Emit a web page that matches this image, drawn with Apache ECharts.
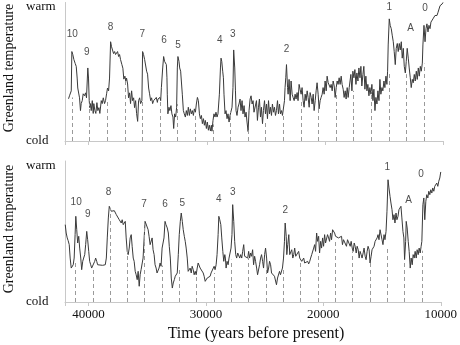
<!DOCTYPE html>
<html><head><meta charset="utf-8">
<script src="https://cdn.jsdelivr.net/npm/echarts@6/dist/echarts.min.js"></script>
<style>html,body{margin:0;padding:0;background:#fff}#c{width:460px;height:345px}</style>
</head><body><div id="c"></div>
<script>
// ---- Data (years before present, temperature index 0=cold .. 100=warm) ----
const topYears=[41700,41620,41530,41470,41420,41340,41250,41140,41050,40970,40920,40770,40690,40630,40540,40460,40350,40260,40180,40070,40010,39950,39900,39840,39780,39690,39610,39560,39470,39390,39300,39220,39130,39050,38930,38850,38760,38650,38570,38480,38400,38310,38230,38140,38060,37970,37890,37800,37720,37630,37550,37460,37380,37300,37240,37190,37100,37020,36930,36850,36790,36700,36620,36530,36450,36360,36280,36190,36110,36020,35940,35850,35770,35680,35600,35490,35430,35350,35260,35180,35090,35010,34920,34840,34750,34670,34580,34500,
34410,34270,34180,34130,34050,33960,33900,33840,33730,33650,33570,33480,33420,33370,33340,33290,33200,33120,33030,32950,32860,32800,32720,32630,32550,32490,32440,32350,32290,32210,32150,32070,31980,31900,31810,31730,31640,31560,31470,31390,31300,31220,31130,31050,30960,30880,30790,30710,30620,30540,30450,30370,30280,30200,30120,30030,29950,29860,29780,29690,29610,29560,29470,29390,29300,29220,29130,29050,28930,28840,28790,28730,28650,28590,28540,28450,28370,28280,28200,28110,28030,27950,27860,27780,27720,27630,27570,27520,27440,27350,27270,27180,27100,27010,26930,26840,26760,26670,26590,26500,26420,26330,26250,26160,26080,26000,
25940,25790,25710,25620,25540,25450,25370,25280,25200,25110,25030,24940,24860,24770,24690,24610,24520,24440,24350,24270,24180,24100,24010,23930,23840,23760,23670,23590,23500,23420,23370,23310,23250,23160,23110,23030,22940,22860,22770,22690,22600,22520,22440,22350,22270,22180,22100,22010,21930,21840,21760,21670,21590,21500,21420,21330,21250,21160,21080,20990,20910,20820,20740,20660,20570,20490,20400,20320,20230,20150,20060,19980,19890,19810,19720,19640,19550,19470,19380,19300,19210,19130,19040,18960,18880,18790,18710,18620,18540,18450,18370,18280,18200,18110,18030,17940,
17880,17800,17710,17630,17540,17460,17370,17290,17200,17120,17030,16950,16870,16780,16700,16610,16530,16440,16360,16270,16190,16100,16020,15930,15850,15760,15680,15590,15510,15420,15340,15260,15170,15090,15000,14920,14830,14750,14690,14640,14550,14470,14380,14300,14210,14130,14040,13960,13870,13790,13700,13620,13530,13450,13360,13280,13190,13110,13030,12940,12860,12770,12690,12600,12520,12430,12350,12260,12180,12090,12010,11920,11840,11750,11700,11610,11520,11440,11360,11270,11190,11100,11020,10930,10850,10760,10680,10590,10510,10420,10340,10250,10170,10080,10000];
const topTemp=[31.4,33.6,32.4,37.3,66.5,64.3,60.6,57.7,55.5,46.8,39.4,32.1,22.6,27.8,30.0,35.1,33.6,35.8,32.1,54.3,46.8,30.0,24.8,27.8,22.6,30.0,20.5,27.8,22.6,20.5,28.5,22.6,24.8,20.5,30.0,27.8,32.1,27.8,30.0,35.1,39.4,37.3,46.8,73.8,70.1,68.7,65.0,66.5,64.3,65.0,66.5,62.8,64.3,60.6,61.4,57.0,54.1,46.0,48.2,44.6,46.8,42.4,32.1,35.8,27.8,37.3,30.0,32.1,24.8,30.0,20.5,14.6,30.0,32.1,27.8,30.0,66.5,64.3,60.6,61.4,51.9,49.7,39.4,35.1,30.0,32.1,27.8,30.0,
30.0,32.4,28.7,31.2,30.0,32.4,30.0,39.7,54.3,62.8,59.2,57.9,56.8,47.0,34.8,20.2,25.1,22.6,26.3,20.2,17.8,9.3,20.2,17.8,25.1,54.3,62.8,59.2,54.3,51.9,44.6,34.8,22.6,20.2,17.8,22.6,19.0,25.1,19.0,23.9,20.2,22.6,19.0,23.9,21.4,27.5,32.4,30.0,20.2,16.6,19.0,12.9,16.6,11.7,15.3,9.3,14.1,8.0,11.7,7.5,11.7,7.3,15.3,20.2,17.8,21.4,17.8,20.2,34.8,54.3,61.6,59.2,51.9,47.0,34.8,20.2,22.6,16.6,20.2,14.1,19.0,20.2,25.1,39.7,67.7,54.3,37.3,22.6,19.0,25.1,27.5,31.2,22.6,30.0,20.2,26.3,17.8,21.4,14.1,7.0,22.6,31.2,33.6,27.5,30.0,21.4,
22.6,30.0,15.3,25.1,31.2,17.8,25.1,12.9,22.6,30.0,20.2,27.5,16.6,30.0,20.2,25.1,19.0,27.5,21.4,25.1,19.0,22.6,30.0,20.2,27.5,20.2,22.6,19.0,17.8,30.0,39.7,47.0,56.8,39.7,34.8,45.8,30.0,44.6,34.8,32.4,30.0,34.8,31.2,36.0,30.0,42.1,38.5,34.8,39.7,30.0,25.1,34.8,30.0,37.3,32.4,25.1,36.0,32.4,27.5,34.8,22.6,30.0,37.3,43.3,34.8,23.9,30.0,32.4,34.8,39.7,34.8,44.6,37.3,48.2,43.3,44.6,39.7,42.1,37.3,44.6,40.9,32.4,39.7,44.6,42.1,47.0,42.1,48.2,42.1,38.5,32.4,37.3,31.2,39.7,32.4,39.7,
39.7,49.5,37.3,51.9,47.0,53.1,42.1,50.6,44.6,54.3,47.0,55.5,40.9,49.5,55.5,38.5,48.2,37.3,42.1,33.6,39.7,34.8,42.1,30.0,38.5,22.6,32.4,27.5,37.3,30.0,45.8,34.8,39.7,37.3,44.6,39.7,48.2,42.1,51.9,71.4,90.8,86.0,83.5,78.7,73.8,66.5,56.8,68.9,72.5,66.5,72.5,67.7,73.8,61.6,68.9,55.5,50.6,59.2,68.9,61.6,54.3,47.0,39.7,45.8,43.3,49.5,44.6,51.9,45.8,54.3,48.2,55.5,51.9,57.9,71.4,86.0,73.8,83.5,87.1,81.1,86.0,83.5,88.4,87.1,90.8,92.0,93.3,94.5,93.3,95.7,96.9,100.6,99.3,101.8,103.0];

const bottomYears=[41980,41900,41810,41730,41640,41560,41470,41390,41300,41220,41140,41080,41000,40920,40830,40750,40660,40580,40490,40410,40320,40240,40150,40070,39980,39900,39810,39730,39640,39560,39470,39390,39300,39220,39130,39050,38800,38570,38480,38400,38310,38230,38140,38060,37970,37890,37800,37720,37630,37550,37460,37380,37300,37210,37130,37040,36960,36870,36790,36700,36620,36530,36450,36360,36280,36190,36110,36020,35940,35850,35770,35680,35600,35520,35430,35350,35260,35180,35090,35010,34920,34840,34750,34670,34580,34500,
34410,34330,34240,34160,34070,33990,33900,33820,33730,33570,33480,33400,33290,33200,33120,33030,32950,32860,32780,32690,32610,32520,32440,32350,32270,32180,32100,32010,31930,31840,31760,31680,31590,31510,31420,31340,31250,31170,31080,31000,30910,30830,30740,30660,30570,30490,30400,30320,30230,30150,30060,29980,29890,29810,29730,29640,29560,29470,29390,29300,29220,29130,29050,28960,28900,28820,28730,28650,28560,28480,28390,28340,28280,28200,28110,28030,27950,27860,27780,27720,27630,27550,27460,27380,27290,27210,27120,27040,26950,26870,26780,26700,26610,26530,26440,26360,26280,26190,26110,26020,
25940,25850,25770,25680,25600,25510,25430,25340,25260,25170,25090,25000,24920,24830,24750,24660,24580,24490,24410,24330,24240,24160,24070,23990,23900,23820,23730,23650,23560,23480,23390,23310,23250,23160,23110,23030,22940,22860,22770,22690,22600,22520,22440,22350,22270,22180,22100,22010,21930,21840,21760,21670,21590,21500,21420,21330,21250,21160,21080,20990,20910,20820,20740,20660,20570,20490,20400,20320,20230,20150,20060,19980,19890,19810,19720,19640,19550,19470,19380,19300,19210,19130,19040,18960,18880,18790,18710,18620,18540,18450,18370,18280,18200,18110,18030,17940,
17880,17800,17710,17630,17540,17460,17370,17290,17200,17120,17030,16950,16870,16780,16700,16610,16530,16440,16360,16270,16190,16100,16020,15930,15850,15760,15680,15590,15510,15420,15340,15260,15170,15090,15000,14920,14830,14750,14660,14580,14490,14410,14320,14240,14150,14070,13980,13900,13810,13730,13640,13560,13470,13390,13310,13220,13140,13080,12990,12940,12860,12770,12690,12600,12520,12430,12350,12260,12180,12090,12010,11920,11840,11750,11670,11610,11520,11440,11360,11270,11190,11100,11020,10930,10850,10760,10680,10590,10510,10420,10340,10250,10170,10080,10000];
const bottomTemp=[56.5,50.4,46.8,44.8,41.9,32.1,24.8,24.8,27.2,32.1,49.2,62.6,52.8,43.1,48.0,39.4,32.1,23.6,29.7,32.1,34.6,41.9,51.6,45.5,37.0,29.7,27.2,24.8,23.6,24.8,29.7,32.1,29.7,27.2,26.1,26.8,26.8,27.2,32.1,46.8,61.4,69.9,68.7,66.3,67.4,65.0,66.7,65.7,63.8,65.0,62.6,60.1,61.4,57.7,60.1,56.5,55.3,58.9,46.8,37.0,34.6,39.4,46.8,49.2,40.7,32.1,29.7,22.4,19.9,16.3,22.4,11.5,19.9,23.6,22.4,32.1,46.8,58.9,60.1,58.9,52.8,48.0,41.9,43.1,46.8,38.2,
34.6,27.2,24.8,21.2,19.9,24.8,28.5,26.1,39.4,46.8,58.9,56.5,54.1,50.4,40.7,32.1,17.5,10.2,13.9,16.3,18.8,19.9,21.2,34.6,49.2,58.9,65.0,58.9,52.8,48.0,44.3,39.4,32.1,22.4,23.6,24.8,21.2,26.1,23.6,19.9,22.4,19.9,24.8,28.5,27.2,24.8,23.6,24.8,21.2,18.8,15.1,16.3,17.5,17.0,18.0,18.8,21.2,19.9,22.4,26.1,23.6,27.2,34.6,49.2,62.6,60.1,56.5,46.8,37.0,29.7,34.6,32.1,24.8,29.7,27.2,32.1,32.1,39.4,49.2,71.1,58.9,44.3,34.6,32.1,35.8,34.6,32.1,34.6,32.1,37.0,41.9,33.4,32.1,34.6,32.1,37.0,32.1,35.8,33.4,38.2,
27.2,33.4,29.7,24.8,19.9,18.8,27.2,32.1,34.6,29.7,24.8,34.6,39.4,32.1,21.2,24.8,29.7,27.2,21.2,22.4,19.9,18.8,17.5,12.6,17.5,18.8,22.4,19.9,21.2,24.8,32.1,44.3,57.7,48.0,34.6,41.9,49.2,34.6,33.4,38.2,32.1,34.6,39.4,33.4,34.6,32.1,37.0,32.1,33.4,29.7,30.9,32.1,28.5,29.7,27.2,29.7,27.8,29.7,32.1,34.6,33.4,39.4,41.9,37.0,50.4,44.3,48.0,35.8,44.3,39.4,46.8,40.7,49.2,43.1,41.9,49.2,46.8,44.3,50.4,45.5,52.8,54.1,50.4,48.0,49.2,48.0,46.8,47.3,45.5,48.0,41.9,45.5,44.3,46.8,40.7,45.5,
46.8,45.5,40.7,44.3,39.4,37.0,43.1,40.7,35.8,40.7,38.2,32.1,37.0,34.6,32.1,35.8,39.4,33.4,30.9,37.0,40.7,38.2,28.5,33.4,38.2,37.0,40.7,44.3,43.1,46.8,49.2,45.5,52.8,51.6,45.5,41.9,49.2,45.5,51.6,66.3,89.3,83.3,77.2,72.3,67.4,60.1,63.8,57.7,65.0,60.1,62.6,67.4,68.7,69.9,61.4,51.6,46.8,30.9,44.3,58.9,54.1,44.3,37.0,24.8,32.1,27.2,34.6,32.1,37.0,32.1,38.2,34.6,39.4,35.8,40.7,44.3,71.1,76.0,60.1,73.6,78.4,76.0,80.9,78.4,82.0,79.6,83.3,80.9,84.5,83.3,86.9,84.5,88.2,90.6,95.0];

// Dashed cycle markers: year and the height they reach
const topCycleYears=[41410,39920,38430,36940,35450,33960,32470,30980,29490,28000,26510,25020,23530,22040,20550,19060,17570,16080,14590,13100,11610];
const topCycleTops=[32.4,27.8,30.0,44.6,30.0,30.0,27.5,20.8,12.4,21.5,8.0,15.3,19.0,30.0,25.6,35.0,37.3,37.3,50.4,49.7,57.5];
const bottomCycleYears=[41110,39635,38160,36685,35210,33735,32260,30785,29310,27835,26360,24885,23410,21935,20460,18985,17510,16035,14560,13085,11610];
const bottomCycleTops=[28.5,24.8,68.7,40.7,58.9,26.6,24.8,19.5,21.2,30.9,32.1,23.5,24.8,30.0,35.8,46.0,37.0,30.0,40.7,30.9,37.5];

// Event labels
const peakNames=['10','9','8','7','6','5','4','3','2','1','A','0'];
const topPeakYears=[41390,40150,38140,35460,33620,32440,28900,27800,23250,14550,12740,11520];
const topPeakTemps=[79.1,66.0,84.7,79.1,75.0,71.4,75.0,79.3,68.2,99.3,84.0,98.8];
const bottomPeakYears=[41050,40070,38290,35260,33480,32010,28900,27720,23250,14550,12740,11670];
const bottomPeakTemps=[72.8,64.1,80.1,71.4,71.4,72.5,75.2,80.1,67.2,98.4,74.5,93.5];

const xTicks={min:10000,max:42000,interval:10000};
const yTickLabels={0:'cold',100:'warm'};

// ---- Chart ----
const SERIF='"Liberation Serif","Times New Roman",serif';
const SANS='"Liberation Sans",Arial,sans-serif';
function pairs(xs,ys){return xs.map((x,i)=>[x,ys[i]]);}
function xAxisCfg(gi,showLabels){
  return {type:'value',gridIndex:gi,min:xTicks.min,max:xTicks.max,interval:xTicks.interval,inverse:true,
    axisLine:{show:true,onZero:false,lineStyle:{color:'#c8c8c8',width:1}},
    axisTick:{show:true,length:4,lineStyle:{color:'#c8c8c8'}},
    axisLabel:{show:showLabels,margin:6,fontFamily:SERIF,fontSize:13,color:'#111',
      formatter:v=>(v%10000===0?String(v):'')},
    splitLine:{show:false}};
}
function yAxisCfg(gi){
  return {type:'value',gridIndex:gi,min:0,max:103,interval:100,
    axisLine:{show:true,onZero:false,lineStyle:{color:'#c8c8c8',width:1}},
    axisTick:{show:false},splitLine:{show:false},
    axisLabel:{align:'left',margin:39,fontFamily:SERIF,fontSize:13,color:'#111',
      formatter:v=>(yTickLabels[v]||'')}};
}
function lineSeries(idx,xs,ys,cy,ct){
  return {type:'line',xAxisIndex:idx,yAxisIndex:idx,data:pairs(xs,ys),showSymbol:false,symbol:'none',
    lineStyle:{color:'#3a3a3a',width:1},animation:false,silent:true,
    markLine:{silent:true,symbol:['none','none'],label:{show:false},animation:false,
      lineStyle:{type:[4,3],color:'#9a9a9a',width:1},
      emphasis:{disabled:true},
      data:cy.map((y,i)=>[{coord:[y,0]},{coord:[y,ct[i]]}])}};
}
function labelSeries(idx,xs,ys){
  return {type:'scatter',xAxisIndex:idx,yAxisIndex:idx,symbolSize:1,itemStyle:{color:'rgba(0,0,0,0)'},
    animation:false,silent:true,
    data:xs.map((x,i)=>({name:peakNames[i],value:[x,ys[i]]})),
    label:{show:true,position:'inside',formatter:'{b}',fontFamily:SANS,fontSize:10,color:'#222'}};
}
const chart=echarts.init(document.getElementById('c'),null,{renderer:'canvas'});
chart.setOption({
  backgroundColor:'#fff',
  animation:false,
  grid:[{left:65,right:17,top:0,height:141},{left:65,right:17,top:161,height:141}],
  xAxis:[xAxisCfg(0,false),xAxisCfg(1,true)],
  yAxis:[yAxisCfg(0),yAxisCfg(1)],
  series:[
    lineSeries(0,topYears,topTemp,topCycleYears,topCycleTops),
    lineSeries(1,bottomYears,bottomTemp,bottomCycleYears,bottomCycleTops),
    labelSeries(0,topPeakYears,topPeakTemps),
    labelSeries(1,bottomPeakYears,bottomPeakTemps)
  ],
  graphic:[
    {type:'text',x:9,y:68,rotation:Math.PI/2,style:{text:'Greenland temperature',font:'14px '+SERIF,fill:'#111',textAlign:'center',textVerticalAlign:'middle'}},
    {type:'text',x:9,y:229,rotation:Math.PI/2,style:{text:'Greenland temperature',font:'14px '+SERIF,fill:'#111',textAlign:'center',textVerticalAlign:'middle'}},
    {type:'text',x:256,y:334,style:{text:'Time (years before present)',font:'16px '+SERIF,fill:'#111',textAlign:'center',textVerticalAlign:'middle'}}
  ]
});
</script></body></html>
